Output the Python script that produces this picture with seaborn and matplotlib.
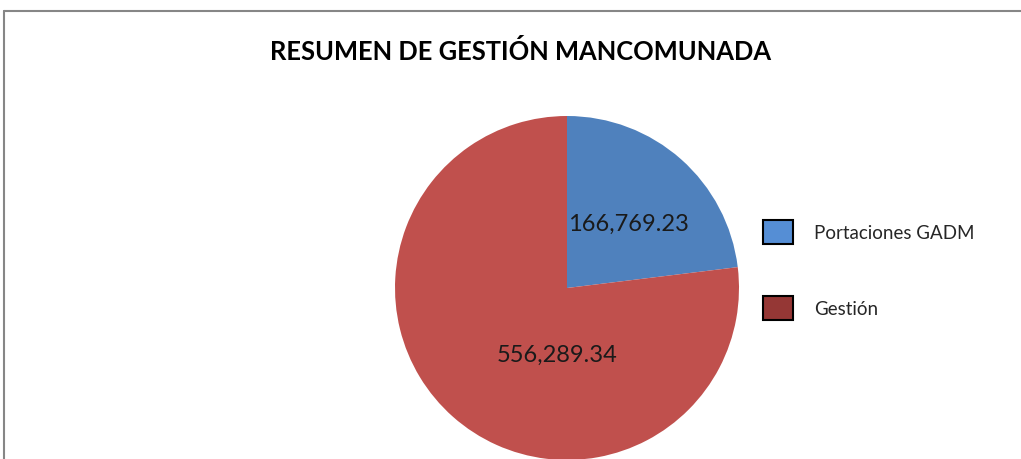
import matplotlib
matplotlib.use("Agg")
import matplotlib.pyplot as plt
import seaborn as sns
from matplotlib.lines import Line2D
from matplotlib.patches import Patch

# data
categories = ["Portaciones GADM", "Gestión"]
values = [166769.23, 556289.34]
slice_colors = ["#4F81BD", "#C0504D"]
legend_colors = ["#558ED5", "#953735"]
title = "RESUMEN DE GESTIÓN MANCOMUNADA"

sns.set_theme(style="white")
plt.rcParams["font.family"] = ["Lato", "DejaVu Sans"]

W, H = 1021, 460
fig = plt.figure(figsize=(W / 100, H / 100), dpi=100)
fig.patch.set_facecolor("white")

# pie axes: center (567, 289), radius 172 px
cx, cy, r = 567, 289, 172
ax = fig.add_axes([(cx - r) / W, 1 - (cy + r) / H, 2 * r / W, 2 * r / H])
ax.pie(values, colors=slice_colors, startangle=90, counterclock=False,
       radius=1.0, wedgeprops=dict(linewidth=0))
ax.set_xlim(-1, 1)
ax.set_ylim(-1, 1)
ax.set_aspect("equal")
ax.axis("off")

# value labels (positions mimic the original chart)
label_pos = [(0.355, 0.378), (-0.058, -0.384)]
for v, (lx, ly) in zip(values, label_pos):
    ax.text(lx, ly, f"{v:,.2f}", ha="center", va="center",
            fontsize=17, color="#1a1a1a")

fig.text(521 / W, 1 - 51 / H, title, ha="center", va="center",
         fontsize=18.4, fontweight="bold", color="black")

handles = [Patch(facecolor=c, edgecolor="black", linewidth=1.5)
           for c in legend_colors]
fs = 13.5
fig.legend(handles, categories, loc="upper left",
           bbox_to_anchor=(763 / W, 1 - 221 / H), frameon=False,
           fontsize=fs, handlelength=1.6, handleheight=1.6,
           handletextpad=1.1, labelspacing=2.75, borderpad=0,
           borderaxespad=0)

# chart border (left and top edges visible)
bc = "#868686"
fig.add_artist(Line2D([4 / W, 4 / W], [0, 1 - 12 / H], color=bc, lw=1.5,
                      transform=fig.transFigure))
fig.add_artist(Line2D([4 / W, 1], [1 - 12 / H, 1 - 12 / H], color=bc, lw=1.5,
                      transform=fig.transFigure))

fig.savefig("out.png", dpi=100)
